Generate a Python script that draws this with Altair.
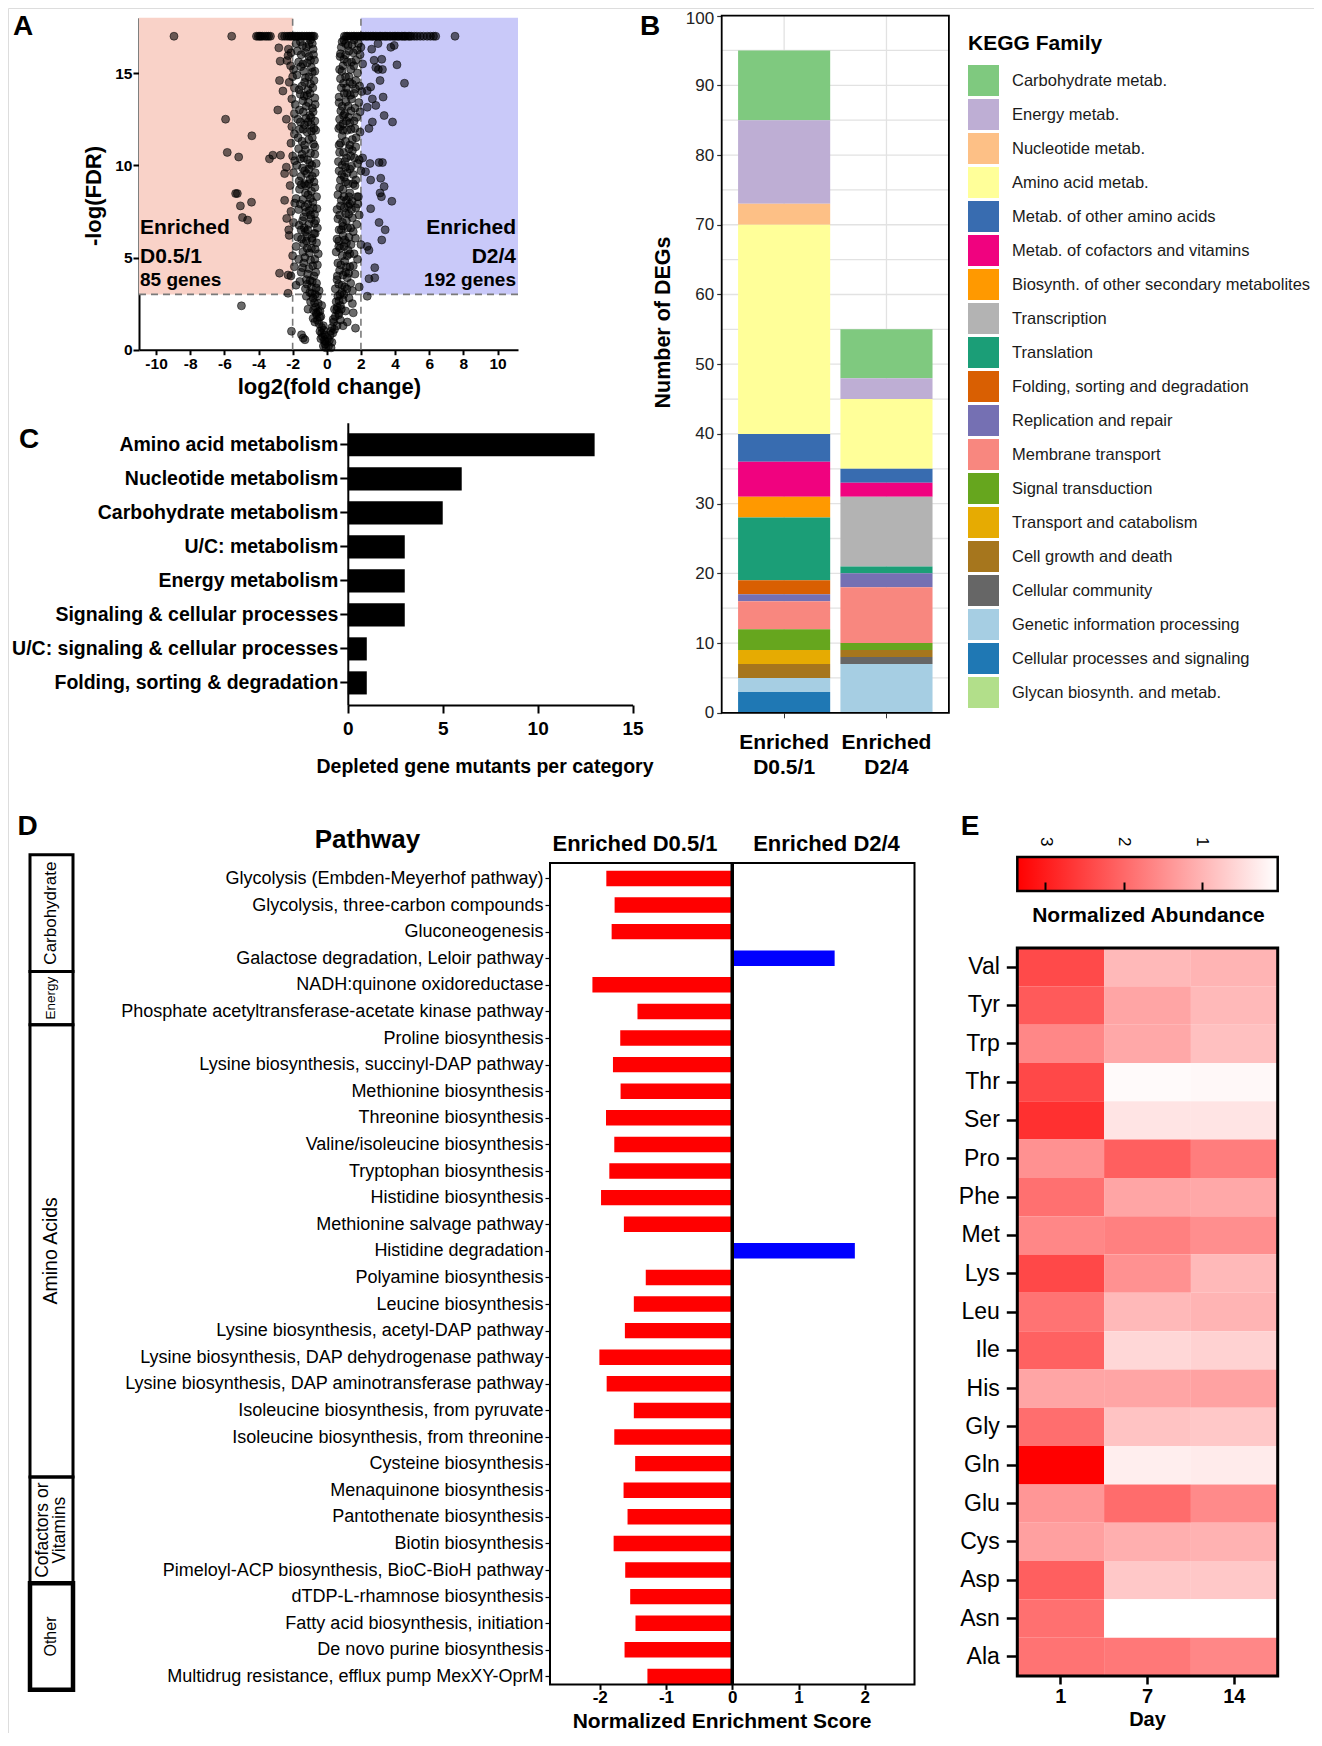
import json
import altair as alt
import pandas as pd

FONT = "Liberation Sans, Arial, Helvetica, sans-serif"
W, H = 1306, 1725

# ======================= Panel A : volcano plot =======================
top_band_y = 17.0
top_left_x = [-8.95, -5.57, -4.12, -4.02, -3.93, -3.86, -3.77, -3.63, -3.52, -3.41, -3.3,
              -2.62, -2.47, -2.33, -2.21, -2.12, -2.02, -1.9, -1.81, -1.7, -1.62, -1.5,
              -1.41, -1.3, -1.19, -1.1, -1.0, -0.91, -0.82, -0.74]
top_right_x = [1.03, 1.14, 1.22, 1.33, 1.46, 1.55, 1.63, 1.76, 1.84, 1.97, 2.06, 2.13, 2.27,
               2.35, 2.44, 2.57, 2.66, 2.73, 2.86, 2.94, 3.07, 3.15, 3.24, 3.36, 3.45, 3.53,
               3.66, 3.74, 3.87, 3.95, 4.04, 4.16, 4.23, 4.37, 4.46, 4.55, 4.63, 4.77, 4.86,
               4.95, 5.12, 5.28, 5.47, 5.66, 5.88, 6.07, 6.25, 6.38, 7.51]
left_arm_pts = [
    (-0.05, 0.1), (-0.1, 0.3), (-0.15, 0.5), (-0.2, 0.2), (-0.25, 0.7), (-0.3, 0.9), (-0.12, 0.8),
    (-0.35, 0.6), (-0.4, 1.0), (-0.08, 0.45),
    (-0.3, 1.2), (-0.45, 1.4), (-0.55, 1.6), (-0.35, 1.8), (-0.6, 1.9), (-0.7, 1.5), (-0.2, 1.3),
    (-0.8, 1.7), (-2.07, 1.0), (-1.38, 0.63), (-1.28, 0.54), (-1.48, 0.81),
    (-0.4, 2.1), (-0.5, 2.5), (-0.65, 2.3), (-0.8, 2.8), (-0.95, 2.6), (-1.1, 2.2), (-0.55, 2.9),
    (-1.2, 2.9), (-0.3, 2.4),
    (-0.45, 3.2), (-0.6, 3.6), (-0.75, 4.0), (-0.9, 3.4), (-1.05, 4.4), (-1.2, 3.8), (-1.35, 4.7),
    (-1.5, 4.2), (-0.55, 4.6), (-0.7, 4.9), (-1.0, 3.1), (-1.65, 4.9), (-1.8, 3.5), (-1.9, 4.5),
    (-2.1, 4.0), (-1.25, 3.3),
    (-0.5, 5.2), (-0.6, 5.8), (-0.75, 6.3), (-0.9, 5.5), (-1.05, 6.8), (-1.2, 5.9), (-1.35, 7.2),
    (-1.5, 6.5), (-1.65, 7.6), (-1.8, 5.6), (-1.95, 6.9), (-2.1, 7.5), (-0.65, 7.0), (-0.8, 7.7),
    (-1.1, 7.9), (-1.4, 5.3), (-1.7, 6.1), (-2.0, 5.1), (-0.55, 6.6), (-1.25, 6.4), (-0.95, 7.3),
    (-1.55, 7.9), (-2.2, 6.2),
    (-0.6, 8.3), (-0.75, 9.1), (-0.9, 8.6), (-1.05, 9.8), (-1.2, 8.9), (-1.35, 10.4), (-1.5, 9.4),
    (-1.65, 10.9), (-1.8, 8.2), (-1.95, 9.6), (-2.1, 11.2), (-0.7, 10.6), (-0.85, 11.5),
    (-1.0, 10.1), (-1.15, 11.8), (-1.3, 9.0), (-1.45, 11.3), (-1.6, 8.7), (-1.75, 10.0),
    (-1.9, 11.7), (-2.15, 8.9), (-0.65, 11.9), (-1.1, 8.4), (-2.0, 10.5),
    (-0.7, 12.4), (-0.85, 13.1), (-1.0, 12.7), (-1.15, 13.8), (-1.3, 12.2), (-1.45, 14.3),
    (-1.6, 13.0), (-1.75, 14.9), (-1.9, 12.8), (-2.05, 13.6), (-2.2, 14.5), (-0.75, 14.6),
    (-0.9, 15.3), (-1.05, 15.9), (-1.2, 16.4), (-1.35, 15.1), (-1.5, 16.0), (-1.65, 15.6),
    (-1.8, 16.6), (-1.95, 15.2), (-2.1, 16.1), (-0.8, 16.3), (-1.1, 14.1), (-1.4, 13.5),
    (-1.7, 12.5), (-2.0, 14.8), (-0.95, 16.8), (-1.55, 16.7), (-0.72, 15.7)]
left_arm_pts2 = [
    (-0.18, 1.05), (-0.42, 1.75), (-0.5, 2.05), (-0.72, 2.55), (-0.88, 3.05), (-0.62, 3.35),
    (-0.98, 3.75), (-1.12, 4.1), (-0.82, 4.55), (-1.42, 4.45), (-1.58, 3.7), (-1.28, 5.0),
    (-0.68, 5.45), (-1.02, 5.25), (-1.18, 6.15), (-0.88, 6.05), (-1.48, 6.0), (-1.62, 6.75),
    (-1.32, 6.6), (-0.72, 6.85), (-1.02, 7.55), (-1.88, 7.95), (-1.22, 7.45), (-0.58, 7.65),
    (-0.82, 8.0), (-1.4, 8.15), (-1.62, 9.15), (-0.98, 9.25), (-1.18, 9.55), (-1.42, 9.85),
    (-0.68, 9.6), (-1.88, 10.25), (-1.55, 10.35), (-0.95, 10.65), (-1.25, 10.85), (-0.78, 11.15),
    (-1.68, 11.5), (-1.38, 11.95), (-2.05, 12.1), (-0.92, 12.2), (-1.22, 12.55), (-1.55, 12.35),
    (-0.8, 12.9), (-1.85, 13.3), (-1.08, 13.4), (-1.32, 13.75), (-0.7, 13.65), (-1.62, 14.1),
    (-0.95, 14.4), (-1.9, 14.2), (-1.25, 14.75), (-0.85, 15.05), (-1.52, 15.35), (-1.15, 15.55),
    (-2.12, 15.4), (-0.78, 16.0), (-1.42, 16.5), (-1.72, 16.2), (-1.05, 16.55), (-2.25, 16.3)]
left_arm_pts3 = [
    (-0.62, 2.0), (-0.78, 2.15), (-0.68, 3.0), (-0.85, 3.7), (-1.15, 3.55), (-0.65, 4.2),
    (-0.95, 4.85), (-1.15, 5.5), (-0.85, 5.9), (-1.35, 5.75), (-0.68, 6.3), (-1.12, 6.5),
    (-0.92, 7.1), (-1.42, 7.0), (-0.72, 7.35), (-1.28, 7.75), (-0.95, 8.2), (-1.25, 8.5),
    (-0.7, 8.8), (-1.05, 9.0), (-1.5, 8.95), (-0.85, 9.4), (-1.3, 9.7), (-0.62, 10.1),
    (-1.12, 10.3), (-0.88, 10.0), (-1.45, 10.6), (-0.7, 11.0), (-1.05, 11.4), (-1.3, 11.1),
    (-0.9, 11.85), (-1.6, 11.95), (-0.75, 12.0), (-1.1, 12.35), (-0.92, 12.6), (-1.38, 12.9),
    (-0.68, 13.3), (-1.2, 13.2), (-0.98, 13.9), (-1.55, 13.85), (-0.82, 14.2), (-1.3, 14.5),
    (-1.05, 14.8), (-0.7, 15.1), (-1.4, 15.5), (-0.95, 15.7), (-1.25, 16.1), (-0.85, 16.6)]
right_arm_pts = [
    (0.1, 0.2), (0.15, 0.5), (0.2, 0.8), (0.3, 0.4), (0.35, 0.9), (0.05, 0.6), (0.25, 0.1), (1.68, 1.17),
    (0.3, 1.2), (0.4, 1.5), (0.5, 1.8), (0.6, 1.3), (0.7, 1.9), (0.45, 1.1), (0.8, 1.6),
    (0.45, 2.2), (0.55, 2.6), (0.65, 2.9), (0.8, 2.4), (0.95, 2.7), (1.1, 2.1), (1.3, 2.8),
    (1.5, 2.5), (0.7, 2.0),
    (0.5, 3.3), (0.6, 3.8), (0.75, 4.3), (0.9, 3.5), (1.05, 4.8), (1.2, 3.9), (1.35, 4.5),
    (1.5, 3.2), (1.65, 4.1), (1.8, 4.9), (0.65, 4.7), (1.0, 3.0), (1.4, 3.6), (1.9, 3.4), (1.1, 4.2),
    (0.55, 5.3), (0.7, 5.9), (0.85, 6.5), (1.0, 5.6), (1.15, 7.0), (1.3, 6.1), (1.45, 7.6),
    (1.6, 5.2), (1.75, 6.8), (1.9, 7.3), (0.65, 7.1), (0.8, 7.8), (1.2, 5.1), (1.55, 6.4),
    (2.0, 5.7), (0.95, 6.2), (1.35, 7.9), (1.7, 7.7), (0.6, 6.0), (1.1, 7.4),
    (0.65, 8.4), (0.8, 9.2), (0.95, 8.7), (1.1, 9.9), (1.25, 9.0), (1.4, 10.5), (1.55, 9.5),
    (1.7, 11.0), (1.85, 8.3), (2.0, 9.7), (0.75, 10.7), (0.9, 11.6), (1.05, 10.2), (1.2, 11.9),
    (1.35, 8.5), (1.5, 11.4), (1.65, 8.9), (1.8, 10.1), (1.95, 11.8), (0.7, 12.0), (1.15, 8.1),
    (2.1, 10.4),
    (0.75, 12.5), (0.9, 13.2), (1.05, 12.8), (1.2, 13.9), (1.35, 12.3), (1.5, 14.4), (1.65, 13.1),
    (1.8, 15.0), (1.95, 12.9), (0.8, 14.7), (0.95, 15.4), (1.1, 16.0), (1.25, 16.5), (1.4, 15.2),
    (1.55, 16.1), (1.7, 15.7), (1.85, 16.6), (0.85, 16.4), (1.15, 14.2), (1.45, 13.6),
    (1.75, 12.6), (2.05, 14.0), (1.0, 16.8), (1.6, 16.8), (0.78, 15.9)]
right_arm_pts2 = [
    (0.22, 1.0), (0.38, 1.65), (0.58, 2.15), (0.72, 2.65), (0.88, 3.1), (1.18, 3.3), (0.7, 3.55),
    (0.95, 4.05), (1.28, 4.15), (0.82, 4.6), (1.55, 4.55), (1.25, 5.4), (0.78, 5.5), (1.05, 5.95),
    (1.42, 5.7), (1.68, 6.05), (0.92, 6.9), (1.22, 6.6), (1.5, 7.15), (0.72, 6.5), (1.02, 7.7),
    (1.82, 7.9), (1.28, 7.35), (0.6, 7.6), (0.85, 8.1), (1.48, 8.05), (1.7, 9.2), (1.02, 9.35),
    (1.2, 9.6), (1.45, 9.95), (0.72, 9.7), (1.9, 10.3), (1.62, 10.4), (0.98, 10.7), (1.3, 10.9),
    (0.8, 11.2), (1.72, 11.5), (1.42, 11.95), (0.95, 12.25), (1.28, 12.6), (1.6, 12.4),
    (0.82, 12.95), (1.88, 13.4), (1.12, 13.45), (1.38, 13.8), (0.72, 13.7), (1.68, 14.15),
    (0.98, 14.45), (1.92, 14.3), (1.3, 14.8), (0.88, 15.1), (1.58, 15.4), (1.2, 15.6),
    (2.1, 15.5), (0.8, 16.05), (1.48, 16.55), (1.78, 16.25), (1.1, 16.6), (2.0, 16.4),
    (1.55, 2.0), (1.2, 1.5), (0.95, 1.3)]
right_arm_pts3 = [
    (0.62, 2.3), (0.85, 2.2), (0.78, 3.0), (1.05, 3.4), (0.62, 4.0), (1.15, 4.5), (0.9, 5.1),
    (1.35, 5.2), (0.7, 5.6), (1.15, 5.8), (0.95, 6.7), (1.4, 6.6), (0.75, 7.3), (1.25, 7.8),
    (1.0, 8.3), (1.3, 8.3), (0.75, 8.8), (1.1, 9.1), (1.55, 9.0), (0.88, 9.5), (1.35, 9.8),
    (0.68, 10.2), (1.15, 10.4), (0.9, 10.0), (1.5, 10.8), (0.72, 11.1), (1.1, 11.3), (1.35, 11.1),
    (0.95, 11.9), (1.65, 12.0), (0.78, 12.1), (1.15, 12.4), (0.98, 12.7), (1.42, 12.95),
    (0.72, 13.4), (1.25, 13.2), (1.02, 13.9), (1.6, 13.9), (0.85, 14.2), (1.35, 14.5),
    (1.1, 14.8), (0.75, 15.2), (1.45, 15.6), (1.0, 15.75), (1.3, 16.2), (0.9, 16.7),
    (1.95, 16.0), (1.7, 14.6)]
outlier_pts = [
    (-5.93, 12.5), (-5.83, 10.7), (-5.16, 10.45), (-4.39, 11.6), (-5.34, 8.47), (-5.24, 8.47),
    (-5.06, 7.8), (-4.41, 8.0), (-4.94, 7.17), (-4.64, 7.03), (-5.0, 2.38), (-3.36, 10.35),
    (-3.16, 10.55), (-2.71, 10.55), (-2.77, 4.15), (-2.87, 13.0), (-2.81, 16.37), (-2.73, 15.65),
    (-2.77, 14.6), (-2.57, 14.03), (-2.37, 12.5), (-2.33, 15.68), (-2.27, 15.95), (-2.35, 7.12),
    (-2.47, 8.1), (-2.23, 6.5), (-2.37, 9.9), (-2.47, 9.55), (-2.27, 4.05), (-2.27, 3.06),
    (4.55, 14.45), (4.11, 15.45), (3.75, 16.4), (3.95, 16.5), (3.85, 12.35), (3.36, 12.7),
    (3.30, 13.7), (2.87, 15.3), (3.02, 15.2), (3.26, 15.2), (3.22, 15.75), (3.0, 16.6),
    (2.63, 16.3), (2.77, 15.7), (3.12, 14.6), (2.57, 14.25), (2.37, 14.05), (2.67, 13.6),
    (2.87, 13.25), (2.37, 13.15), (2.67, 12.35), (2.47, 12.0), (3.06, 10.15), (3.26, 10.15),
    (2.53, 10.1), (2.27, 9.65), (2.57, 9.2), (3.16, 9.3), (3.36, 8.85), (3.12, 8.5), (3.2, 8.3),
    (3.81, 8.05), (2.57, 7.65), (3.06, 6.9), (3.42, 6.5), (3.22, 5.95), (2.37, 5.6), (2.47, 5.4),
    (2.81, 4.45), (2.81, 3.9), (2.47, 3.85), (2.37, 2.9), (1.78, 8.3)]
fc_cut = [-2.0, 2.0]
fdr_cut = 3.0
region_x0 = [-11.0, 2.0]
region_x1 = [-2.0, 11.2]
region_colors = ["#f9d2c8", "#c9c9f9"]

# ======================= Panel B : KEGG stacked bars =======================
b_groups = ["Enriched D0.5/1", "Enriched D2/4"]
families = ["Carbohydrate metab.", "Energy metab.", "Nucleotide metab.", "Amino acid metab.",
            "Metab. of other amino acids", "Metab. of cofactors and vitamins",
            "Biosynth. of other secondary metabolites", "Transcription", "Translation",
            "Folding, sorting and degradation", "Replication and repair", "Membrane transport",
            "Signal transduction", "Transport and catabolism", "Cell growth and death",
            "Cellular community", "Genetic information processing",
            "Cellular processes and signaling", "Glycan biosynth. and metab."]
family_colors = ["#7fc97f", "#beaed4", "#fdc086", "#ffff99", "#386cb0", "#f0027f", "#ff9900",
                 "#b3b3b3", "#1b9e77", "#d95f02", "#7570b3", "#f8877f", "#66a61e", "#e6ab02",
                 "#a6761d", "#666666", "#a6cee3", "#1f78b4", "#b2df8a"]
counts_d051 = [10, 12, 3, 30, 4, 5, 3, 0, 9, 2, 1, 4, 3, 2, 2, 0, 2, 3, 0]
counts_d24 = [7, 3, 0, 10, 2, 2, 0, 10, 1, 0, 2, 8, 1, 0, 1, 1, 7, 0, 0]

# ======================= Panel C : depleted mutants =======================
c_categories = ["Amino acid metabolism", "Nucleotide metabolism", "Carbohydrate metabolism",
                "U/C: metabolism", "Energy metabolism", "Signaling & cellular processes",
                "U/C: signaling & cellular processes", "Folding, sorting & degradation"]
c_values = [13, 6, 5, 3, 3, 3, 1, 1]

# ======================= Panel D : pathway enrichment =======================
pathways = ["Glycolysis (Embden-Meyerhof pathway)", "Glycolysis, three-carbon compounds",
            "Gluconeogenesis", "Galactose degradation, Leloir pathway",
            "NADH:quinone oxidoreductase", "Phosphate acetyltransferase-acetate kinase pathway",
            "Proline biosynthesis", "Lysine biosynthesis, succinyl-DAP pathway",
            "Methionine biosynthesis", "Threonine biosynthesis", "Valine/isoleucine biosynthesis",
            "Tryptophan biosynthesis", "Histidine biosynthesis", "Methionine salvage pathway",
            "Histidine degradation", "Polyamine biosynthesis", "Leucine biosynthesis",
            "Lysine biosynthesis, acetyl-DAP pathway",
            "Lysine biosynthesis, DAP dehydrogenase pathway",
            "Lysine biosynthesis, DAP aminotransferase pathway",
            "Isoleucine biosynthesis, from pyruvate", "Isoleucine biosynthesis, from threonine",
            "Cysteine biosynthesis", "Menaquinone biosynthesis", "Pantothenate biosynthesis",
            "Biotin biosynthesis", "Pimeloyl-ACP biosynthesis, BioC-BioH pathway",
            "dTDP-L-rhamnose biosynthesis", "Fatty acid biosynthesis, initiation",
            "De novo purine biosynthesis", "Multidrug resistance, efflux pump MexXY-OprM"]
nes = [-1.90, -1.775, -1.82, 1.545, -2.11, -1.43, -1.69, -1.80, -1.685, -1.905, -1.78, -1.855,
       -1.98, -1.635, 1.85, -1.305, -1.485, -1.62, -2.005, -1.895, -1.485, -1.78, -1.465, -1.64,
       -1.58, -1.79, -1.615, -1.54, -1.46, -1.625, -1.28]
d_group_names = ["Carbohydrate", "Energy", "Amino Acids", "Cofactors or\nVitamins", "Other"]
d_group_start = [-0.89, 3.5, 5.5, 22.5, 26.5]
d_group_end = [3.5, 5.5, 22.5, 26.5, 30.5]
d_group_fontsize = [17, 13.5, 19.5, 17.5, 16]
d_group_stroke = [3, 3, 3, 3, 4.5]

# ======================= Panel E : amino acid heatmap =======================
amino_acids = ["Val", "Tyr", "Trp", "Thr", "Ser", "Pro", "Phe", "Met", "Lys", "Leu", "Ile",
               "His", "Gly", "Gln", "Glu", "Cys", "Asp", "Asn", "Ala"]
e_days = ["1", "7", "14"]
abund_day1 = [2.39, 2.18, 1.60, 2.42, 2.73, 1.47, 1.90, 1.60, 2.42, 1.86, 2.09, 1.21, 1.92,
              3.36, 1.40, 1.27, 2.12, 1.90, 1.86]
abund_day7 = [0.95, 1.21, 1.17, 0.10, 0.38, 2.12, 1.21, 1.69, 1.47, 0.95, 0.55, 1.21, 0.81,
              0.25, 1.95, 1.08, 0.75, 0.03, 1.79]
abund_day14 = [1.01, 0.95, 0.85, 0.12, 0.38, 1.73, 1.17, 1.51, 0.95, 1.01, 0.62, 1.25, 0.75,
               0.29, 1.56, 1.04, 0.75, 0.03, 1.60]
E_MIN, E_MAX = 0.03, 3.36
colorbar_ticks = [3, 2, 1]

PLAIN_NUM = "datum.value + ''"


# ----------------------------------------------------------------------------
def axis(orient, offset, **kw):
    base = dict(orient=orient, offset=offset, title=None, grid=False, labelColor="black",
                tickColor="black", domainColor="black", labelFont=FONT, labelOverlap=False,
                labelFlush=False)
    base.update(kw)
    return alt.Axis(**base)


def txt(text, x, y, size, weight="bold", angle=0, align="center", baseline="middle",
        color="black"):
    kw = dict(fontSize=size, fontWeight=weight, align=align, baseline=baseline, color=color,
              font=FONT)
    if angle:
        kw["angle"] = angle
    return alt.Chart(pd.DataFrame({"t": [text]})).mark_text(**kw).encode(
        x=alt.value(x), y=alt.value(y), text="t:N")


def frame(x0, x1, y0, y1, sw):
    return alt.Chart(pd.DataFrame({"f": [0]})).mark_rect(
        fill="transparent", stroke="black", strokeWidth=sw).encode(
        x=alt.value(x0), x2=alt.value(x1), y=alt.value(y0), y2=alt.value(y1))


# ---------------------------- Panel A ----------------------------
A_XD, A_YD = [-11.0, 11.2], [0.0, 18.0]
A_XR, A_YR = [131.0, 510.0], [341.7, 9.8]
A_X = alt.Scale(domain=A_XD, range=A_XR, nice=False, zero=False)
A_Y = alt.Scale(domain=A_YD, range=A_YR, nice=False, zero=False)
A_XAX = axis("bottom", A_YR[0] - H, values=list(range(-10, 11, 2)), tickSize=5, tickWidth=2,
             domainWidth=2, labelFontSize=15.5, labelFontWeight="bold", labelPadding=2,
             labelExpr=PLAIN_NUM)
A_YAX = axis("left", -A_XR[0], values=[0, 5, 10, 15], tickSize=6, tickWidth=2, domainWidth=2,
             labelFontSize=15.5, labelFontWeight="bold", labelPadding=1)

pts = ([(x, top_band_y) for x in top_left_x + top_right_x] + left_arm_pts + left_arm_pts2
       + left_arm_pts3 + right_arm_pts + right_arm_pts2 + right_arm_pts3 + outlier_pts)
dfA = pd.DataFrame(pts, columns=["x", "y"])

a_reg = alt.Chart(pd.DataFrame({"x0": region_x0, "x1": region_x1, "y0": [fdr_cut] * 2,
                                "y1": [A_YD[1]] * 2, "c": region_colors})).mark_rect().encode(
    x=alt.X("x0:Q", scale=A_X, axis=A_XAX), x2="x1:Q",
    y=alt.Y("y0:Q", scale=A_Y, axis=A_YAX), y2="y1:Q",
    color=alt.Color("c:N", scale=None, legend=None))
a_v = alt.Chart(pd.DataFrame({"x": fc_cut, "y0": [A_YD[0]] * 2, "y1": [A_YD[1]] * 2})).mark_rule(
    color="#7a7a7a", strokeDash=[7, 5], strokeWidth=1.6).encode(
    x=alt.X("x:Q", scale=A_X, axis=A_XAX), y=alt.Y("y0:Q", scale=A_Y, axis=A_YAX), y2="y1:Q")
a_h = alt.Chart(pd.DataFrame({"y": [fdr_cut], "x0": [A_XD[0]], "x1": [A_XD[1]]})).mark_rule(
    color="#7a7a7a", strokeDash=[7, 5], strokeWidth=1.6).encode(
    y=alt.Y("y:Q", scale=A_Y, axis=A_YAX), x=alt.X("x0:Q", scale=A_X, axis=A_XAX), x2="x1:Q")
a_pts = alt.Chart(dfA).mark_circle(size=64, color="black", fillOpacity=0.58, stroke="black",
                                   strokeWidth=0.8, strokeOpacity=0.65).encode(
    x=alt.X("x:Q", scale=A_X, axis=A_XAX),
    y=alt.Y("y:Q", scale=A_Y, axis=A_YAX))
panelA = alt.layer(a_reg, a_v, a_h, a_pts)

# ---------------------------- Panel B ----------------------------
B_XR, B_YR = [713.7, 940.9], [704.8, 7.6]
B_X = alt.Scale(domain=b_groups, range=B_XR, paddingInner=0.1, paddingOuter=0.16)
B_Y = alt.Scale(domain=[0, 100], range=B_YR, nice=False, zero=False)
B_XAX = axis("bottom", B_YR[0] - H, labelExpr="split(datum.label, ' ')", labelFontSize=21,
             labelFontWeight="bold", labelLineHeight=25, labelPadding=14, tickSize=5,
             tickColor="#333", domain=False, labelAngle=0)
B_YAX = axis("left", -B_XR[0], values=list(range(0, 101, 10)), tickSize=5, tickWidth=1.2,
             tickColor="#333", domain=False, labelFontSize=17, labelColor="#222", labelPadding=3,
             labelOffset={"condition": {"test": "datum.value == 100", "value": 3}, "value": 0})
rows = []
for g, cnts in zip(b_groups, [counts_d051, counts_d24]):
    for k, (fam, c) in enumerate(zip(families, cnts)):
        if c > 0:
            rows.append({"group": g, "family": fam, "count": c, "k": k})
dfB = pd.DataFrame(rows)

b_hgrid = alt.Chart(pd.DataFrame({"v": list(range(0, 101, 5))})).mark_rule(
    color="#e2e2e2", strokeWidth=1.3).encode(
    y=alt.Y("v:Q", scale=B_Y, axis=B_YAX), x=alt.value(B_XR[0]), x2=alt.value(B_XR[1]))
b_vgrid = alt.Chart(pd.DataFrame({"group": b_groups})).mark_rule(
    color="#e2e2e2", strokeWidth=1.3).encode(
    x=alt.X("group:N", scale=B_X, sort=None, axis=B_XAX), y=alt.value(B_YR[1]),
    y2=alt.value(B_YR[0]))
b_bars = alt.Chart(dfB).mark_bar().encode(
    x=alt.X("group:N", scale=B_X, sort=None, axis=B_XAX),
    y=alt.Y("count:Q", stack="zero", scale=B_Y, axis=B_YAX),
    color=alt.Color("family:N", scale=alt.Scale(domain=families, range=family_colors),
                    legend=alt.Legend(orient="none", legendX=960, legendY=25,
                                      title="KEGG Family", titleFontSize=21,
                                      titleFontWeight="bold", titleColor="black",
                                      titleFont=FONT, titlePadding=11, titleAnchor="start",
                                      symbolType="square", symbolSize=961,
                                      symbolStrokeWidth=0, symbolOpacity=1, rowPadding=3,
                                      labelFontSize=16.5, labelColor="#1a1a1a", labelFont=FONT,
                                      labelOffset=13, labelLimit=600, padding=0,
                                      direction="vertical")),
    order=alt.Order("k:Q", sort="descending"))
panelB = alt.layer(b_hgrid, b_vgrid, b_bars, frame(B_XR[0], B_XR[1], B_YR[1], B_YR[0], 1.8))

# ---------------------------- Panel C ----------------------------
C_XR, C_YR = [339.8, 624.6], [414.7, 697.0]
C_X = alt.Scale(domain=[0, 15], range=C_XR, nice=False, zero=True)
C_Y = alt.Scale(domain=c_categories, range=C_YR, paddingInner=0.32, paddingOuter=0.31)
panelC = alt.Chart(pd.DataFrame({"cat": c_categories, "n": c_values})).mark_bar(
    color="black").encode(
    x=alt.X("n:Q", scale=C_X,
            axis=axis("bottom", C_YR[1] - H, values=[0, 5, 10, 15], tickSize=8, tickWidth=2,
                      domainWidth=2, labelFontSize=19, labelFontWeight="bold", labelPadding=6,
                      zindex=1)),
    y=alt.Y("cat:N", scale=C_Y, sort=None,
            axis=axis("left", -C_XR[0], tickSize=8, tickWidth=2, domainWidth=2,
                      labelFontSize=19.5, labelFontWeight="bold", labelPadding=2, zindex=1,
                      labelLimit=600)))

# ---------------------------- Panel D ----------------------------
D_XR, D_YR = [542.0, 906.5], [855.0, 1676.4]
D_X = alt.Scale(domain=[-2.75, 2.75], range=D_XR, nice=False, zero=False)
D_Y = alt.Scale(domain=[-0.58, 30.3], range=D_YR, nice=False, zero=False)
label_expr = json.dumps(pathways) + "[datum.value]"
D_XAX = axis("bottom", D_YR[1] - H, values=[-2, -1, 0, 1, 2], tickSize=5, tickWidth=2,
             domain=False, labelFontSize=17, labelFontWeight="bold", labelPadding=0,
             labelExpr=PLAIN_NUM)
D_YAX = axis("left", -D_XR[0], values=list(range(len(pathways))), labelExpr=label_expr,
             tickSize=5, tickWidth=1.2, domain=False, labelFontSize=18,
             labelFontWeight="normal", labelPadding=2, labelLimit=700)
dfD = pd.DataFrame({"idx": list(range(len(pathways))), "nes": nes, "base": [0.0] * len(nes)})
d_bars = alt.Chart(dfD).transform_calculate(
    y0="datum.idx - 0.29", y1="datum.idx + 0.29").mark_rect().encode(
    x=alt.X("nes:Q", scale=D_X, axis=D_XAX), x2="base:Q",
    y=alt.Y("y0:Q", scale=D_Y, axis=D_YAX), y2="y1:Q",
    color=alt.condition("datum.nes > 0", alt.value("#0000ff"), alt.value("#ff0000")))
d_zero = alt.Chart(pd.DataFrame({"z": [0.0]})).mark_rule(color="black", strokeWidth=3.5).encode(
    x=alt.X("z:Q", scale=D_X, axis=D_XAX), y=alt.value(D_YR[0]), y2=alt.value(D_YR[1]))
dfDg = pd.DataFrame({"name": d_group_names, "start": d_group_start, "end": d_group_end,
                     "fs": d_group_fontsize, "sw": d_group_stroke})
d_boxes = alt.Chart(dfDg).mark_rect(fill="transparent", stroke="black").encode(
    x=alt.value(22), x2=alt.value(65),
    y=alt.Y("start:Q", scale=D_Y, axis=D_YAX), y2="end:Q",
    strokeWidth=alt.StrokeWidth("sw:Q", scale=None))
d_boxtext1 = alt.Chart(dfDg).transform_filter("indexof(datum.name, '\\n') < 0").transform_calculate(
    mid="(datum.start + datum.end) / 2").mark_text(
    angle=270, font=FONT, color="black", baseline="middle").encode(
    x=alt.value(43), y=alt.Y("mid:Q", scale=D_Y, axis=D_YAX), text="name:N",
    size=alt.Size("fs:Q", scale=None))
d_boxtext2 = alt.Chart(dfDg).transform_filter("indexof(datum.name, '\\n') >= 0").transform_calculate(
    mid="(datum.start + datum.end) / 2").mark_text(
    angle=270, font=FONT, lineBreak="\n", lineHeight=17, color="black", baseline="middle").encode(
    x=alt.value(35), y=alt.Y("mid:Q", scale=D_Y, axis=D_YAX), text="name:N",
    size=alt.Size("fs:Q", scale=None))
panelD = alt.layer(d_bars, d_zero, frame(D_XR[0], D_XR[1], D_YR[0], D_YR[1], 2),
                   d_boxes, d_boxtext1, d_boxtext2)

# ---------------------------- Panel E ----------------------------
E_XR, E_YR = [1009.3, 1269.7], [940.0, 1668.0]
E_X = alt.Scale(domain=e_days, range=E_XR, paddingInner=0, paddingOuter=0)
E_Y = alt.Scale(domain=amino_acids, range=E_YR, paddingInner=0, paddingOuter=0)
e_rows = []
for d, vals in zip(e_days, [abund_day1, abund_day7, abund_day14]):
    for aa, v in zip(amino_acids, vals):
        e_rows.append({"day": d, "aa": aa, "v": v})
dfE = pd.DataFrame(e_rows)
e_cells = alt.Chart(dfE).mark_rect().encode(
    x=alt.X("day:N", scale=E_X, sort=None,
            axis=axis("bottom", E_YR[1] - H, tickSize=8, tickWidth=2.5, domain=False,
                      labelFontSize=20, labelFontWeight="bold", labelPadding=2, labelAngle=0)),
    y=alt.Y("aa:N", scale=E_Y, sort=None,
            axis=axis("left", -E_XR[0], tickSize=11, tickWidth=2.5, domain=False,
                      labelFontSize=23, labelFontWeight="normal", labelPadding=7)),
    color=alt.Color("v:Q", scale=alt.Scale(domain=[E_MIN, E_MAX], range=["#ffffff", "#ff0000"],
                                           interpolate="rgb"), legend=None))
panelE = alt.layer(e_cells, frame(E_XR[0], E_XR[1], E_YR[0], E_YR[1], 3))

CB_X = alt.Scale(domain=[E_MIN, E_MAX], range=[E_XR[1], E_XR[0]], nice=False, zero=False)
grad = alt.LinearGradient(gradient="linear",
                          stops=[alt.GradientStop(color="#ff0000", offset=0),
                                 alt.GradientStop(color="#ffffff", offset=1)],
                          x1=0, x2=1, y1=0, y2=0)
colorbar = alt.Chart(pd.DataFrame({"lo": [E_MIN], "hi": [E_MAX]})).mark_rect(
    fill=grad, stroke="black", strokeWidth=2.5).encode(
    x=alt.X("hi:Q", scale=CB_X,
            axis=axis("top", -883.0, values=colorbar_ticks, tickSize=9, tickWidth=2,
                      domain=False, labelAngle=90, labelAlign="right", labelBaseline="middle",
                      labelPadding=36, labelFontSize=17, labelFontWeight="normal", zindex=1)),
    x2="lo:Q", y=alt.value(849.0), y2=alt.value(883.0))

# ---------------------------- texts ----------------------------
texts = [
    txt("A", 15, 27, 28, baseline="alphabetic"), txt("B", 642, 27, 28, baseline="alphabetic"),
    txt("C", 21, 440, 28, baseline="alphabetic"), txt("D", 19.5, 827, 28, baseline="alphabetic"),
    txt("E", 962, 827, 28, baseline="alphabetic"),
    txt("Enriched", 132, 220, 21, align="left"), txt("D0.5/1", 132, 249, 21, align="left"),
    txt("85 genes", 132, 272, 19, align="left"),
    txt("Enriched", 508, 220, 21, align="right"), txt("D2/4", 508, 249, 21, align="right"),
    txt("192 genes", 508, 272, 19, align="right"),
    txt("-log(FDR)", 86, 188, 22, angle=270), txt("log2(fold change)", 321.4, 378.7, 22),
    txt("Number of DEGs", 656, 314.5, 21.5, angle=270),
    txt("Depleted gene mutants per category", 477, 759, 19.5),
    txt("Pathway", 359.5, 832, 26), txt("Enriched D0.5/1", 627, 836, 22),
    txt("Enriched D2/4", 818.5, 836, 22),
    txt("Normalized Enrichment Score", 714, 1714, 21),
    txt("Normalized Abundance", 1140.5, 907.6, 21), txt("Day", 1139.5, 1712, 20),
]

chart = alt.layer(panelA, panelB, panelC, panelD, panelE, colorbar, *texts).resolve_scale(
    x="independent", y="independent", color="independent").resolve_axis(
    x="independent", y="independent").resolve_legend(color="independent").properties(
    width=W, height=H, autosize=alt.AutoSizeParams(type="none"), padding=0,
    background="white").configure_view(stroke=None).configure(font=FONT)

chart.save("out.html", embed_options={"renderer": "svg", "actions": False})
